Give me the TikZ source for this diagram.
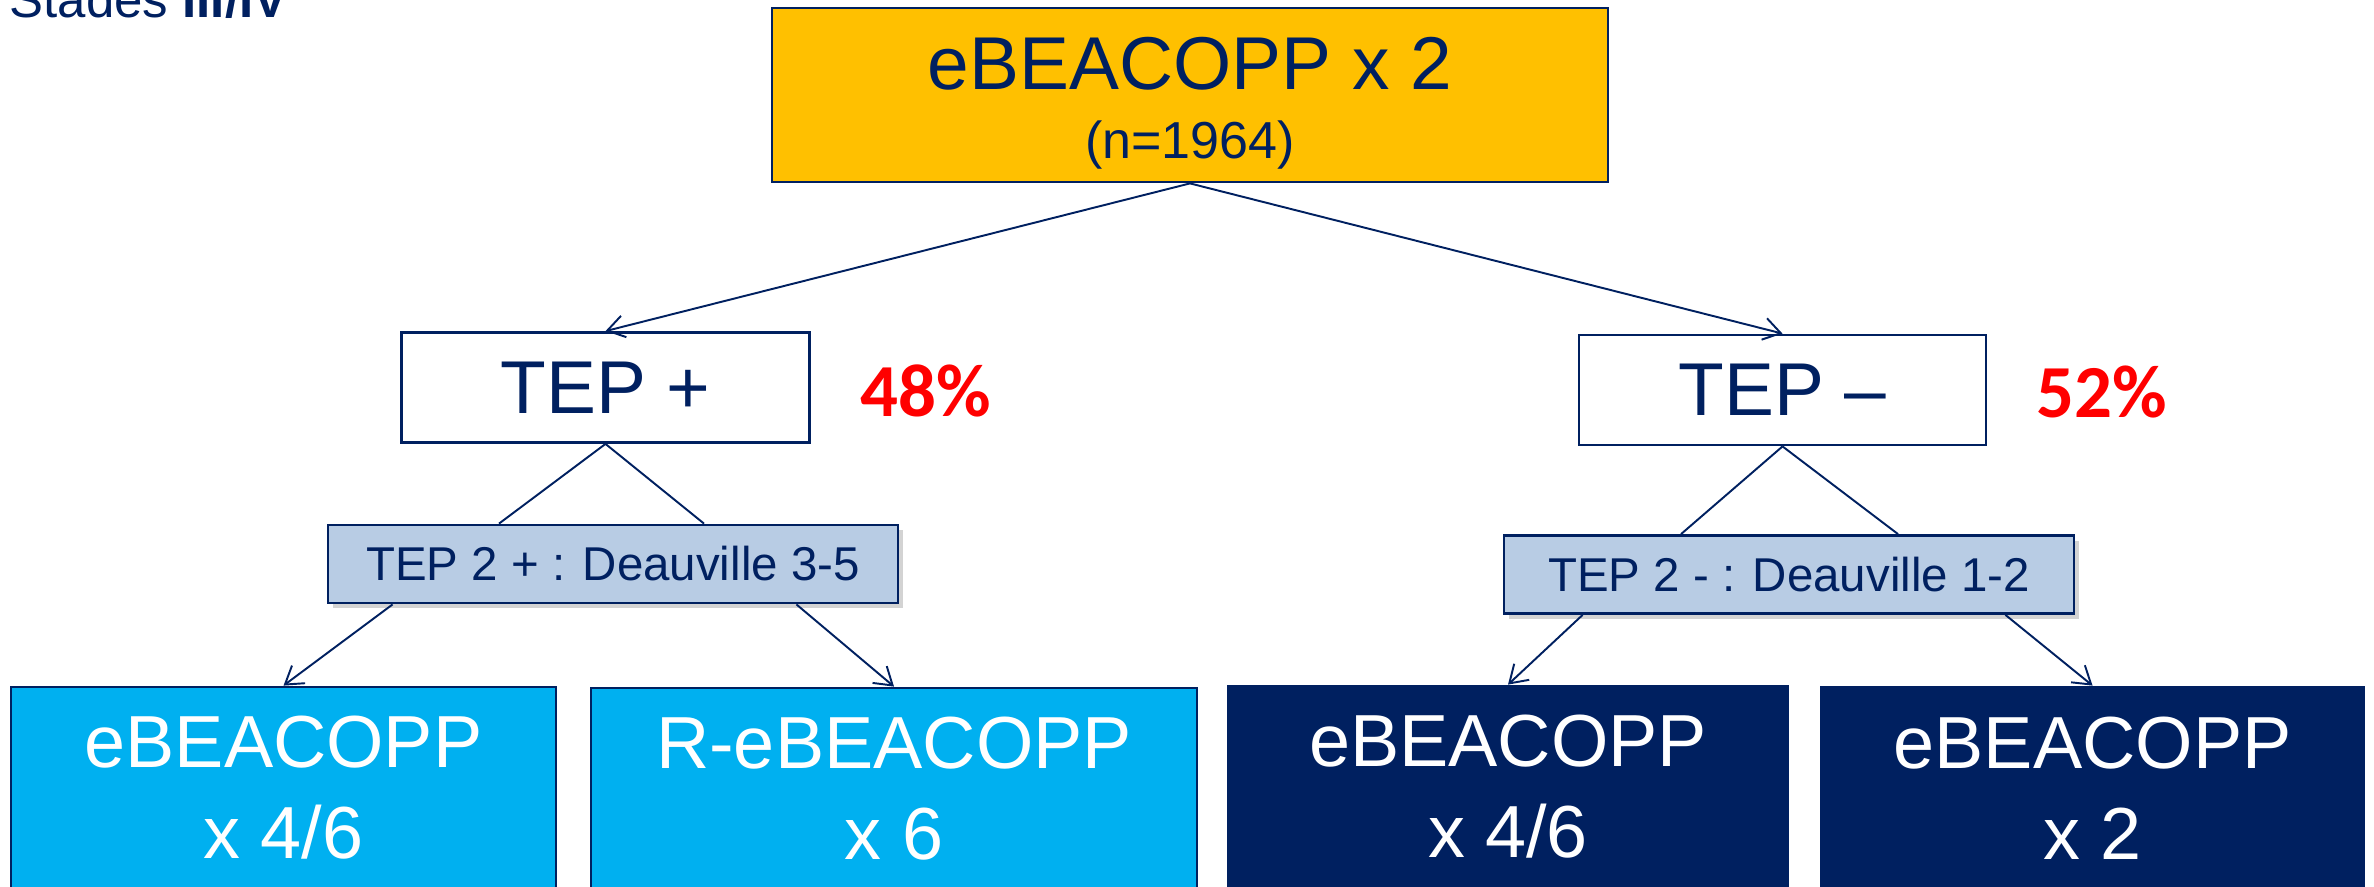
\documentclass[tikz,border=0pt]{standalone}
\usepackage{fontspec}
\setmainfont{Liberation Sans}
\newfontfamily\pctfont{Carlito}
\usetikzlibrary{arrows.meta,shadows}
\definecolor{navy}{RGB}{0,32,96}
\definecolor{gold}{RGB}{255,192,0}
\definecolor{petblue}{RGB}{184,204,228}
\definecolor{armcyan}{RGB}{0,176,240}

\begin{document}
\begin{tikzpicture}[
      box/.style={draw=navy, line width=0.8pt, inner sep=0pt, align=center,
                  text=navy, font=\fontsize{21.3}{19.6}\selectfont},
      tep/.style={box, fill=white, minimum width=4.08cm, minimum height=1.10cm},
      pet/.style={box, fill=petblue, minimum width=5.70cm, minimum height=0.78cm,
                  font=\fontsize{13.5}{16}\selectfont,
                  drop shadow={shadow xshift=0.05cm, shadow yshift=-0.05cm, opacity=0.35}},
      arm/.style={box, text=white, minimum height=2.02cm,
                  font=\fontsize{21}{25.9}\selectfont},
      pct/.style={inner sep=0pt, text=red, font=\pctfont\bfseries\fontsize{21.3}{24}\selectfont},
      arr/.style={-{Straight Barb[length=1.7mm, width=2.2mm]}, line width=0.55pt, draw=navy},
      link/.style={line width=0.55pt, draw=navy}]

    \useasboundingbox (0,0) rectangle (23.74,-8.86);
    \clip (0,0) rectangle (23.74,-8.86);

    \node[anchor=base west, inner sep=0pt, text=navy, font=\fontsize{14.5}{17}\selectfont]
      (stage) at (0.09,-0.17) {Stades \textbf{III/IV}};

    \node[box, fill=gold, minimum width=8.36cm, minimum height=1.74cm]
      (start) at (11.90,-0.95)
      {\rule{0pt}{0.68cm}eBEACOPP x 2\\{\fontsize{14.8}{17}\selectfont (n=1964)}};

    \node[tep] (tepp) at (6.055,-3.875) {TEP +};
    \node[tep, minimum width=4.07cm] (tepm) at (17.825,-3.90) {TEP –};
    \node[pct] (pp) at (9.26,-3.91) {48\%};
    \node[pct] (pm) at (21.02,-3.915) {52\%};

    \node[pet] (petp) at (6.13,-5.64) {TEP 2 + : Deauville 3-5};
    \node[pet] (petm) at (17.89,-5.745) {TEP 2 - : Deauville 1-2};

    \node[arm, fill=armcyan, minimum width=5.45cm] (b1) at (2.835,-7.88) {eBEACOPP\\x 4/6};
    \node[arm, fill=armcyan, minimum width=6.06cm] (b2) at (8.94,-7.89) {R-eBEACOPP\\x 6};
    \node[arm, fill=navy, minimum width=5.60cm] (b3) at (15.08,-7.87) {eBEACOPP\\x 4/6};
    \node[arm, fill=navy, minimum width=5.43cm] (b4) at (20.925,-7.88) {eBEACOPP\\x 2};

    \draw[arr] (start.south) -- (tepp.north);
    \draw[arr] (start.south) -- (tepm.north);
    \draw[link] (tepp.south) -- ([xshift=-1.14cm]petp.north);
    \draw[link] (tepp.south) -- ([xshift=0.91cm]petp.north);
    \draw[link] (tepm.south) -- ([xshift=-1.08cm]petm.north);
    \draw[link] (tepm.south) -- ([xshift=1.09cm]petm.north);
    \draw[arr] ([xshift=0.66cm]petp.south west) -- (b1.north);
    \draw[arr] ([xshift=-1.03cm]petp.south east) -- (b2.north);
    \draw[arr] ([xshift=0.80cm]petm.south west) -- (b3.north);
    \draw[arr] ([xshift=-0.70cm]petm.south east) -- (b4.north);
  \end{tikzpicture}
\end{document}
